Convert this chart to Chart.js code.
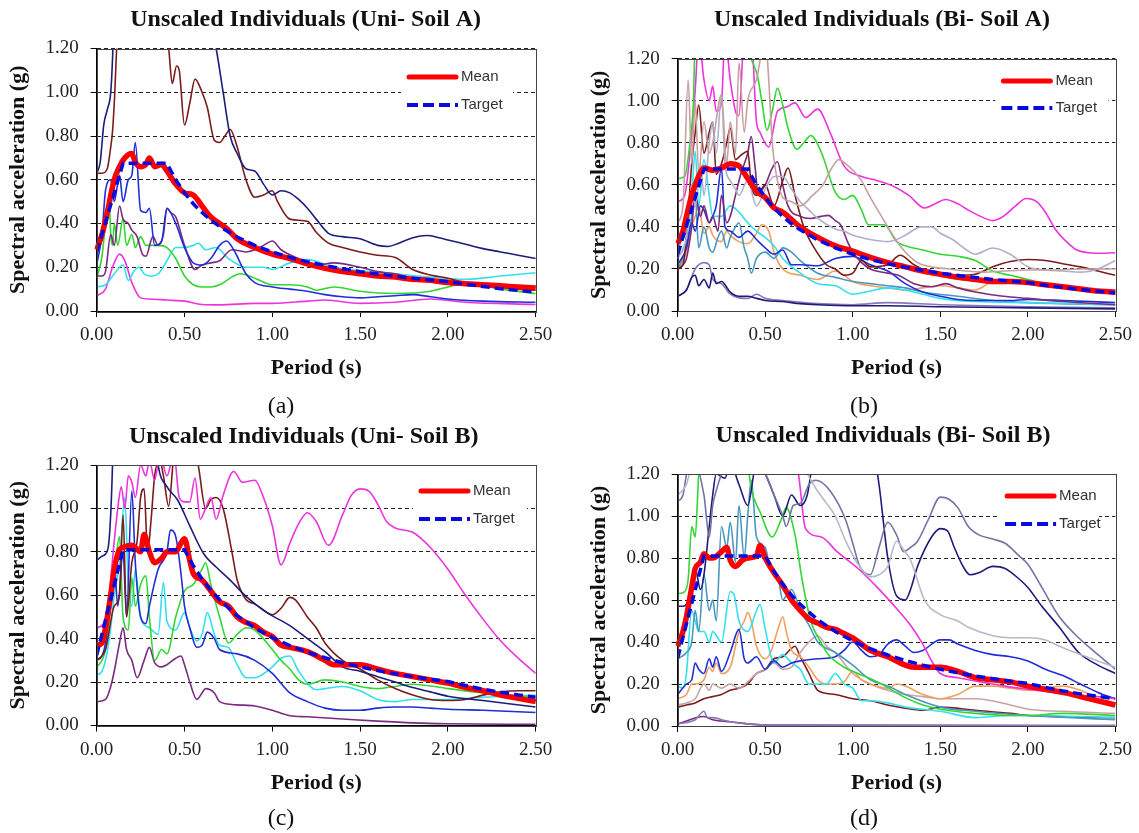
<!DOCTYPE html>
<html><head><meta charset="utf-8">
<script src="https://cdn.jsdelivr.net/npm/chart.js@4.4.0/dist/chart.umd.min.js"></script>
<style>
html,body{margin:0;padding:0;background:#fff;}
body{width:1139px;height:833px;position:relative;overflow:hidden;}
.panel{position:absolute;}
.panel canvas{display:block;}
.cap{position:absolute;font-family:'Liberation Serif',serif;font-size:24px;color:#111;transform:translate(-50%,-50%);line-height:1;white-space:nowrap;}
</style></head><body>
<div class="panel" style="left:0px;top:0px"><canvas id="cA" width="570" height="395"></canvas></div>
<div class="panel" style="left:581px;top:0px"><canvas id="cB" width="558" height="395"></canvas></div>
<div class="panel" style="left:0px;top:416px"><canvas id="cC" width="570" height="417"></canvas></div>
<div class="panel" style="left:581px;top:416px"><canvas id="cD" width="558" height="417"></canvas></div>
<div class="cap" style="left:281px;top:405px">(a)</div>
<div class="cap" style="left:864px;top:405px">(b)</div>
<div class="cap" style="left:281px;top:817px">(c)</div>
<div class="cap" style="left:864px;top:817px">(d)</div>
<script>
// ---------- labels ----------
const TITLES = ['Unscaled Individuals (Uni- Soil A)','Unscaled Individuals (Bi- Soil A)','Unscaled Individuals (Uni- Soil B)','Unscaled Individuals (Bi- Soil B)'];
const X_TITLE = 'Period (s)';
const Y_TITLE = 'Spectral acceleration (g)';
const X_TICKS = [0, 0.5, 1.0, 1.5, 2.0, 2.5];
const Y_TICKS = [0, 0.2, 0.4, 0.6, 0.8, 1.0, 1.2];

// ---------- target spectra [period, Sa] ----------
const TARGET_A = [[0,0.27],[0.15,0.675],[0.4,0.675],[0.45,0.60],[0.5,0.54],[0.55,0.49],[0.6,0.45],[0.65,0.415],[0.7,0.386],[0.8,0.338],[0.9,0.30],[1.0,0.27],[1.1,0.245],[1.2,0.225],[1.3,0.208],[1.4,0.193],[1.5,0.18],[1.6,0.169],[1.7,0.159],[1.8,0.15],[1.9,0.142],[2.0,0.135],[2.1,0.122],[2.2,0.112],[2.3,0.102],[2.4,0.094],[2.5,0.086]];
const TARGET_B = [[0,0.324],[0.15,0.81],[0.5,0.81],[0.55,0.736],[0.6,0.675],[0.65,0.623],[0.7,0.579],[0.8,0.506],[0.9,0.45],[1.0,0.405],[1.1,0.368],[1.2,0.338],[1.3,0.312],[1.4,0.289],[1.5,0.27],[1.6,0.253],[1.7,0.238],[1.8,0.225],[1.9,0.213],[2.0,0.2025],[2.1,0.184],[2.2,0.167],[2.3,0.153],[2.4,0.141],[2.5,0.13]];

// ---------- (a) Uni- Soil A ----------
const A_MEAN = [[0,0.28],[0.03,0.35],[0.06,0.45],[0.1,0.6],[0.13,0.66],[0.16,0.70],[0.2,0.72],[0.22,0.68],[0.25,0.66],[0.28,0.67],[0.3,0.70],[0.33,0.66],[0.37,0.67],[0.4,0.64],[0.45,0.58],[0.5,0.54],[0.55,0.53],[0.6,0.48],[0.65,0.43],[0.7,0.40],[0.75,0.37],[0.8,0.33],[0.9,0.29],[1.0,0.26],[1.1,0.24],[1.2,0.215],[1.3,0.195],[1.4,0.18],[1.5,0.17],[1.6,0.16],[1.7,0.155],[1.8,0.145],[1.9,0.14],[2.0,0.13],[2.1,0.125],[2.2,0.12],[2.3,0.115],[2.4,0.11],[2.5,0.105]];
const A_NAVY = [[0,0.63],[0.02,0.68],[0.04,0.85],[0.06,0.92],[0.08,1.0],[0.09,1.15],[0.1,1.4],[0.15,1.9],[0.3,2.0],[0.5,1.8],[0.62,1.4],[0.68,1.2],[0.72,1.0],[0.76,0.8],[0.8,0.72],[0.85,0.65],[0.9,0.64],[0.95,0.58],[1.0,0.53],[1.05,0.55],[1.1,0.54],[1.15,0.51],[1.2,0.47],[1.25,0.42],[1.32,0.355],[1.4,0.34],[1.5,0.33],[1.6,0.30],[1.66,0.295],[1.72,0.31],[1.8,0.335],[1.88,0.345],[1.95,0.335],[2.0,0.325],[2.1,0.305],[2.2,0.285],[2.3,0.27],[2.4,0.255],[2.5,0.24]];
const A_BROWN = [[0,0.63],[0.03,0.63],[0.06,0.65],[0.08,0.75],[0.09,0.82],[0.1,0.95],[0.12,1.3],[0.2,1.8],[0.35,1.5],[0.41,1.2],[0.43,1.04],[0.455,1.12],[0.47,1.1],[0.5,0.85],[0.53,0.95],[0.56,1.06],[0.6,1.0],[0.63,0.93],[0.67,0.78],[0.7,0.77],[0.73,0.8],[0.76,0.83],[0.8,0.75],[0.85,0.6],[0.9,0.52],[0.95,0.53],[1.0,0.55],[1.03,0.5],[1.1,0.42],[1.2,0.41],[1.25,0.36],[1.32,0.31],[1.4,0.29],[1.5,0.27],[1.6,0.255],[1.7,0.245],[1.8,0.19],[1.9,0.165],[2.0,0.15],[2.1,0.13],[2.2,0.12],[2.3,0.11],[2.4,0.10],[2.5,0.095]];
const A_BLUE = [[0,0.21],[0.03,0.35],[0.05,0.55],[0.08,0.6],[0.1,0.5],[0.13,0.62],[0.15,0.5],[0.18,0.6],[0.2,0.62],[0.22,0.77],[0.25,0.46],[0.28,0.45],[0.3,0.47],[0.33,0.30],[0.37,0.32],[0.4,0.47],[0.45,0.40],[0.5,0.29],[0.55,0.22],[0.6,0.21],[0.65,0.24],[0.7,0.30],[0.74,0.32],[0.78,0.28],[0.85,0.17],[0.9,0.13],[1.0,0.11],[1.1,0.10],[1.2,0.09],[1.3,0.075],[1.4,0.065],[1.5,0.06],[1.6,0.065],[1.7,0.07],[1.8,0.075],[1.9,0.065],[2.0,0.055],[2.2,0.045],[2.5,0.04]];
const A_PURPLE = [[0,0.16],[0.03,0.16],[0.05,0.18],[0.08,0.35],[0.1,0.30],[0.13,0.48],[0.15,0.42],[0.18,0.40],[0.2,0.37],[0.23,0.34],[0.26,0.26],[0.28,0.25],[0.32,0.34],[0.35,0.30],[0.38,0.35],[0.4,0.47],[0.42,0.45],[0.45,0.43],[0.5,0.30],[0.56,0.19],[0.6,0.21],[0.65,0.22],[0.7,0.23],[0.77,0.28],[0.85,0.27],[0.9,0.28],[0.95,0.30],[1.0,0.32],[1.05,0.28],[1.15,0.24],[1.25,0.21],[1.35,0.22],[1.5,0.20],[1.6,0.18],[1.7,0.17],[1.8,0.15],[1.9,0.14],[2.0,0.125],[2.2,0.12],[2.5,0.11]];
const A_GREEN = [[0,0.15],[0.03,0.25],[0.05,0.40],[0.07,0.52],[0.08,0.35],[0.09,0.30],[0.1,0.40],[0.12,0.30],[0.15,0.42],[0.17,0.30],[0.2,0.35],[0.22,0.29],[0.25,0.34],[0.28,0.30],[0.3,0.30],[0.35,0.30],[0.4,0.29],[0.45,0.24],[0.5,0.16],[0.55,0.12],[0.6,0.11],[0.65,0.11],[0.7,0.12],[0.78,0.16],[0.82,0.17],[0.9,0.15],[1.0,0.12],[1.1,0.12],[1.2,0.11],[1.25,0.095],[1.35,0.11],[1.5,0.09],[1.7,0.08],[1.9,0.09],[2.0,0.11],[2.1,0.125],[2.3,0.10],[2.5,0.08]];
const A_CYAN = [[0,0.11],[0.05,0.12],[0.1,0.17],[0.15,0.21],[0.18,0.14],[0.21,0.18],[0.24,0.20],[0.27,0.17],[0.3,0.16],[0.35,0.17],[0.4,0.23],[0.45,0.29],[0.5,0.29],[0.55,0.30],[0.58,0.31],[0.62,0.28],[0.68,0.29],[0.75,0.24],[0.85,0.20],[0.95,0.20],[1.0,0.19],[1.1,0.22],[1.2,0.235],[1.35,0.20],[1.5,0.185],[1.7,0.17],[1.9,0.155],[2.1,0.145],[2.3,0.16],[2.5,0.175]];
const A_MAGENTA = [[0,0.07],[0.05,0.10],[0.09,0.20],[0.13,0.26],[0.16,0.23],[0.2,0.13],[0.25,0.06],[0.3,0.055],[0.4,0.05],[0.5,0.045],[0.6,0.03],[0.7,0.028],[0.9,0.035],[1.0,0.035],[1.2,0.045],[1.3,0.05],[1.5,0.035],[1.7,0.04],[1.9,0.055],[2.1,0.04],[2.5,0.03]];

// ---------- (b) Bi- Soil A ----------
const B_MEAN = [[0,0.32],[0.03,0.38],[0.05,0.45],[0.08,0.55],[0.1,0.6],[0.13,0.66],[0.15,0.68],[0.2,0.67],[0.25,0.68],[0.3,0.70],[0.35,0.69],[0.4,0.63],[0.45,0.57],[0.5,0.54],[0.55,0.49],[0.6,0.47],[0.7,0.40],[0.8,0.35],[0.9,0.31],[1.0,0.285],[1.1,0.255],[1.2,0.23],[1.3,0.21],[1.4,0.19],[1.5,0.175],[1.6,0.16],[1.7,0.15],[1.8,0.14],[1.9,0.14],[2.0,0.135],[2.1,0.125],[2.2,0.115],[2.3,0.105],[2.4,0.095],[2.5,0.09]];
const B_GREEN = [[0,0.63],[0.04,0.64],[0.07,0.8],[0.09,1.0],[0.1,1.3],[0.2,1.5],[0.35,1.4],[0.42,1.2],[0.455,1.12],[0.48,1.0],[0.51,0.86],[0.54,0.95],[0.57,1.06],[0.6,0.98],[0.63,0.87],[0.68,0.77],[0.72,0.80],[0.76,0.835],[0.82,0.755],[0.9,0.565],[0.95,0.53],[1.0,0.55],[1.05,0.48],[1.09,0.41],[1.18,0.41],[1.25,0.33],[1.3,0.31],[1.4,0.29],[1.5,0.27],[1.6,0.26],[1.7,0.24],[1.8,0.19],[1.9,0.17],[2.0,0.15],[2.1,0.13],[2.2,0.115],[2.3,0.10],[2.5,0.085]];
const B_MAGENTA = [[0,0.52],[0.04,0.55],[0.07,0.75],[0.1,1.05],[0.12,1.3],[0.15,1.1],[0.18,1.0],[0.2,1.07],[0.22,0.95],[0.25,0.99],[0.27,1.3],[0.3,1.1],[0.33,0.95],[0.35,0.93],[0.38,1.3],[0.42,1.3],[0.45,0.9],[0.47,0.85],[0.52,0.78],[0.57,0.95],[0.62,0.97],[0.67,0.99],[0.73,0.92],[0.8,0.96],[0.87,0.85],[0.95,0.69],[1.05,0.64],[1.14,0.62],[1.24,0.59],[1.32,0.55],[1.41,0.49],[1.47,0.51],[1.53,0.53],[1.6,0.51],[1.66,0.48],[1.73,0.45],[1.8,0.43],[1.86,0.45],[1.93,0.5],[1.99,0.535],[2.05,0.52],[2.1,0.47],[2.16,0.385],[2.22,0.33],[2.28,0.29],[2.4,0.275],[2.5,0.277]];
const B_TAN = [[0,0.42],[0.03,0.5],[0.06,1.1],[0.08,0.7],[0.1,1.0],[0.12,0.65],[0.15,0.9],[0.18,0.75],[0.2,0.8],[0.25,1.03],[0.28,0.7],[0.3,0.9],[0.33,0.75],[0.35,1.18],[0.38,0.85],[0.4,1.0],[0.45,1.1],[0.5,1.3],[0.52,1.1],[0.54,0.8],[0.57,0.62],[0.6,0.54],[0.65,0.52],[0.7,0.50],[0.77,0.55],[0.83,0.6],[0.88,0.68],[0.92,0.72],[0.96,0.70],[1.0,0.67],[1.05,0.62],[1.1,0.54],[1.15,0.47],[1.2,0.40],[1.28,0.30],[1.37,0.23],[1.45,0.21],[1.55,0.2],[1.65,0.19],[1.75,0.185],[1.86,0.19],[2.0,0.195],[2.15,0.195],[2.3,0.2],[2.5,0.2]];
const B_LAVGRAY = [[0,0.25],[0.05,0.35],[0.08,0.6],[0.1,0.5],[0.13,0.7],[0.15,0.55],[0.18,0.8],[0.2,0.9],[0.22,0.75],[0.25,1.03],[0.27,0.7],[0.3,0.62],[0.33,0.58],[0.35,0.55],[0.4,0.62],[0.45,0.50],[0.5,0.58],[0.55,0.64],[0.6,0.64],[0.65,0.58],[0.7,0.52],[0.75,0.48],[0.8,0.44],[0.9,0.39],[0.95,0.38],[1.0,0.36],[1.1,0.34],[1.2,0.33],[1.25,0.34],[1.3,0.36],[1.39,0.40],[1.45,0.40],[1.5,0.37],[1.57,0.34],[1.65,0.29],[1.7,0.27],[1.8,0.30],[1.9,0.27],[2.0,0.21],[2.1,0.195],[2.2,0.19],[2.3,0.185],[2.4,0.2],[2.5,0.24]];
const B_BROWN = [[0,0.20],[0.03,0.22],[0.05,0.35],[0.08,0.7],[0.1,0.85],[0.12,0.98],[0.15,0.75],[0.18,0.85],[0.2,0.9],[0.22,0.65],[0.25,0.7],[0.28,0.8],[0.3,0.87],[0.33,0.72],[0.36,0.74],[0.4,0.76],[0.42,0.6],[0.45,0.55],[0.5,0.6],[0.55,0.5],[0.6,0.62],[0.63,0.68],[0.67,0.55],[0.72,0.40],[0.78,0.30],[0.85,0.22],[0.9,0.20],[0.95,0.17],[1.0,0.18],[1.05,0.24],[1.1,0.21],[1.2,0.22],[1.27,0.265],[1.35,0.22],[1.45,0.18],[1.6,0.17],[1.7,0.175],[1.8,0.21],[1.9,0.235],[2.0,0.245],[2.1,0.24],[2.2,0.225],[2.3,0.21],[2.4,0.19],[2.5,0.17]];
const B_PURPLE = [[0,0.2],[0.03,0.22],[0.05,0.25],[0.08,0.4],[0.1,0.55],[0.13,0.45],[0.15,0.5],[0.18,0.42],[0.2,0.45],[0.23,0.38],[0.25,0.55],[0.28,0.42],[0.3,0.45],[0.33,0.55],[0.36,0.65],[0.4,0.75],[0.42,0.83],[0.44,0.7],[0.46,0.56],[0.5,0.6],[0.54,0.68],[0.57,0.71],[0.6,0.6],[0.63,0.50],[0.7,0.45],[0.76,0.44],[0.82,0.45],[0.86,0.455],[0.9,0.43],[0.93,0.41],[0.97,0.33],[1.0,0.28],[1.05,0.23],[1.1,0.20],[1.2,0.18],[1.26,0.17],[1.35,0.13],[1.45,0.115],[1.53,0.13],[1.6,0.11],[1.7,0.09],[1.86,0.07],[2.0,0.06],[2.2,0.045],[2.5,0.03]];
const B_BLUE = [[0,0.22],[0.05,0.3],[0.08,0.42],[0.1,0.38],[0.13,0.5],[0.15,0.48],[0.18,0.42],[0.2,0.45],[0.22,0.5],[0.25,0.68],[0.27,0.4],[0.3,0.38],[0.35,0.35],[0.4,0.38],[0.45,0.34],[0.5,0.30],[0.55,0.27],[0.6,0.29],[0.65,0.22],[0.7,0.22],[0.8,0.215],[0.9,0.25],[1.0,0.26],[1.1,0.22],[1.2,0.19],[1.3,0.13],[1.4,0.09],[1.5,0.07],[1.6,0.055],[1.7,0.05],[1.9,0.05],[2.0,0.055],[2.2,0.05],[2.5,0.04]];
const B_CYAN = [[0,0.25],[0.05,0.35],[0.08,0.55],[0.1,0.76],[0.12,0.5],[0.15,0.72],[0.18,0.55],[0.2,0.45],[0.25,0.45],[0.3,0.5],[0.35,0.47],[0.4,0.42],[0.45,0.38],[0.5,0.35],[0.55,0.31],[0.6,0.25],[0.7,0.18],[0.8,0.13],[0.9,0.12],[1.0,0.08],[1.1,0.095],[1.2,0.11],[1.3,0.10],[1.4,0.08],[1.5,0.06],[1.7,0.045],[2.0,0.04],[2.5,0.03]];
const B_TEAL = [[0,0.2],[0.05,0.3],[0.08,0.45],[0.1,0.55],[0.12,0.3],[0.15,0.4],[0.18,0.3],[0.2,0.28],[0.23,0.35],[0.25,0.38],[0.28,0.3],[0.3,0.35],[0.33,0.40],[0.35,0.42],[0.38,0.3],[0.4,0.25],[0.42,0.18],[0.45,0.25],[0.5,0.28],[0.55,0.25],[0.6,0.3],[0.65,0.28],[0.7,0.24],[0.8,0.18],[0.9,0.16],[1.0,0.14],[1.1,0.13],[1.2,0.12],[1.3,0.11],[1.4,0.09],[1.6,0.07],[1.8,0.05],[2.0,0.04],[2.5,0.03]];
const B_ORANGE = [[0,0.19],[0.05,0.28],[0.08,0.4],[0.1,0.45],[0.12,0.5],[0.15,0.37],[0.18,0.4],[0.2,0.36],[0.25,0.33],[0.28,0.38],[0.3,0.36],[0.35,0.33],[0.4,0.32],[0.45,0.37],[0.48,0.41],[0.52,0.38],[0.55,0.28],[0.6,0.2],[0.7,0.17],[0.8,0.15],[0.9,0.19],[0.95,0.17],[1.0,0.14],[1.1,0.12],[1.2,0.11],[1.3,0.10],[1.4,0.11],[1.5,0.12],[1.6,0.11],[1.7,0.10],[1.8,0.14],[1.9,0.145],[2.0,0.14],[2.2,0.12],[2.4,0.09],[2.5,0.08]];
const B_NAVY = [[0,0.07],[0.05,0.1],[0.08,0.16],[0.1,0.17],[0.12,0.12],[0.15,0.15],[0.18,0.11],[0.2,0.18],[0.22,0.13],[0.25,0.14],[0.3,0.09],[0.35,0.07],[0.4,0.07],[0.45,0.06],[0.5,0.05],[0.6,0.045],[0.7,0.035],[0.8,0.03],[1.0,0.025],[1.2,0.025],[1.5,0.02],[2.0,0.015],[2.5,0.01]];
const B_LAVENDER = [[0,0.07],[0.05,0.1],[0.1,0.2],[0.15,0.23],[0.18,0.22],[0.2,0.15],[0.25,0.13],[0.3,0.08],[0.4,0.06],[0.45,0.08],[0.5,0.06],[0.6,0.05],[0.8,0.035],[1.0,0.03],[1.2,0.04],[1.5,0.03],[2.0,0.02],[2.5,0.015]];

// ---------- (c) Uni- Soil B ----------
const C_MEAN = [[0,0.37],[0.03,0.38],[0.05,0.45],[0.08,0.6],[0.1,0.72],[0.13,0.81],[0.15,0.82],[0.2,0.83],[0.22,0.82],[0.25,0.80],[0.27,0.88],[0.3,0.80],[0.33,0.75],[0.37,0.77],[0.4,0.80],[0.45,0.80],[0.48,0.84],[0.5,0.86],[0.53,0.76],[0.55,0.70],[0.6,0.67],[0.65,0.62],[0.7,0.57],[0.75,0.55],[0.8,0.50],[0.85,0.475],[0.9,0.46],[0.95,0.43],[1.0,0.41],[1.05,0.37],[1.1,0.36],[1.2,0.34],[1.3,0.30],[1.35,0.28],[1.4,0.28],[1.5,0.28],[1.6,0.26],[1.7,0.24],[1.8,0.225],[1.9,0.21],[2.0,0.195],[2.1,0.175],[2.2,0.16],[2.3,0.14],[2.4,0.125],[2.5,0.11]];
const C_MAGENTA = [[0,0.45],[0.04,0.47],[0.07,0.6],[0.1,0.85],[0.12,1.0],[0.14,1.1],[0.16,1.0],[0.18,1.15],[0.2,1.12],[0.22,1.05],[0.25,1.2],[0.28,1.15],[0.3,1.22],[0.33,1.13],[0.36,1.25],[0.4,1.15],[0.44,1.25],[0.47,1.05],[0.5,1.03],[0.53,1.03],[0.56,1.14],[0.59,0.95],[0.62,1.0],[0.65,1.05],[0.68,0.95],[0.72,1.06],[0.78,1.17],[0.83,1.12],[0.9,1.13],[0.95,1.05],[1.0,0.92],[1.05,0.74],[1.1,0.84],[1.15,0.93],[1.2,0.98],[1.25,0.94],[1.32,0.83],[1.4,0.97],[1.45,1.06],[1.5,1.09],[1.55,1.08],[1.6,1.02],[1.65,0.94],[1.7,0.91],[1.8,0.89],[1.9,0.82],[2.0,0.72],[2.1,0.6],[2.2,0.49],[2.3,0.39],[2.4,0.31],[2.5,0.24]];
const C_NAVY = [[0,0.76],[0.03,0.78],[0.05,0.79],[0.07,0.85],[0.09,1.2],[0.1,1.6],[0.3,1.6],[0.35,1.2],[0.4,1.1],[0.46,1.04],[0.53,0.92],[0.61,0.79],[0.68,0.73],[0.76,0.67],[0.85,0.595],[0.97,0.52],[1.1,0.46],[1.2,0.40],[1.3,0.34],[1.4,0.27],[1.5,0.25],[1.6,0.225],[1.7,0.2],[1.8,0.175],[1.9,0.155],[2.0,0.135],[2.2,0.115],[2.5,0.085]];
const C_BROWN = [[0,0.3],[0.05,0.35],[0.1,0.55],[0.13,0.6],[0.15,0.97],[0.17,0.5],[0.2,0.75],[0.23,0.85],[0.25,1.05],[0.27,1.09],[0.29,0.8],[0.31,0.95],[0.33,1.15],[0.36,1.22],[0.38,1.15],[0.41,1.01],[0.44,1.25],[0.5,1.35],[0.55,1.3],[0.58,1.19],[0.62,1.0],[0.65,1.04],[0.68,1.05],[0.72,1.0],[0.77,0.8],[0.8,0.67],[0.85,0.58],[0.9,0.56],[0.97,0.52],[1.0,0.51],[1.05,0.54],[1.1,0.59],[1.13,0.58],[1.2,0.50],[1.25,0.45],[1.3,0.38],[1.4,0.30],[1.5,0.26],[1.6,0.21],[1.7,0.17],[1.8,0.14],[1.9,0.12],[2.0,0.115],[2.1,0.12],[2.2,0.14],[2.3,0.155],[2.4,0.16],[2.5,0.16]];
const C_BLUE = [[0,0.30],[0.03,0.32],[0.05,0.38],[0.08,0.6],[0.1,0.75],[0.12,0.55],[0.15,0.8],[0.17,0.5],[0.2,1.08],[0.22,0.75],[0.25,0.5],[0.28,0.47],[0.3,0.55],[0.35,0.72],[0.4,0.80],[0.42,0.90],[0.45,0.87],[0.48,0.7],[0.5,0.55],[0.53,0.45],[0.57,0.36],[0.6,0.37],[0.63,0.43],[0.67,0.40],[0.7,0.35],[0.8,0.33],[0.9,0.30],[1.0,0.24],[1.1,0.15],[1.2,0.11],[1.3,0.08],[1.4,0.07],[1.5,0.07],[1.6,0.08],[1.7,0.085],[1.8,0.085],[1.9,0.08],[2.0,0.075],[2.2,0.07],[2.5,0.06]];
const C_GREEN = [[0,0.27],[0.03,0.3],[0.05,0.35],[0.08,0.55],[0.1,0.7],[0.13,0.87],[0.15,0.5],[0.18,0.44],[0.2,0.68],[0.22,0.55],[0.25,0.65],[0.28,0.69],[0.3,0.5],[0.33,0.3],[0.37,0.35],[0.4,0.33],[0.45,0.5],[0.5,0.62],[0.55,0.65],[0.6,0.72],[0.62,0.75],[0.65,0.65],[0.7,0.5],[0.75,0.38],[0.8,0.42],[0.85,0.45],[0.9,0.44],[1.0,0.35],[1.05,0.3],[1.1,0.26],[1.15,0.21],[1.2,0.19],[1.3,0.21],[1.4,0.20],[1.5,0.18],[1.6,0.17],[1.7,0.18],[1.8,0.19],[2.0,0.17],[2.2,0.15],[2.5,0.13]];
const C_CYAN = [[0,0.23],[0.03,0.25],[0.05,0.3],[0.08,0.45],[0.1,0.6],[0.13,0.75],[0.16,1.05],[0.18,0.65],[0.2,0.55],[0.22,0.72],[0.25,0.5],[0.3,0.45],[0.35,0.42],[0.38,0.66],[0.4,0.48],[0.45,0.44],[0.5,0.52],[0.53,0.45],[0.57,0.39],[0.6,0.42],[0.63,0.52],[0.67,0.42],[0.7,0.37],[0.75,0.36],[0.8,0.28],[0.85,0.22],[0.9,0.22],[1.0,0.27],[1.05,0.31],[1.1,0.32],[1.15,0.25],[1.25,0.165],[1.3,0.17],[1.4,0.18],[1.5,0.16],[1.6,0.12],[1.7,0.11],[1.8,0.12],[2.0,0.12],[2.2,0.13],[2.5,0.14]];
const C_PURPLE = [[0,0.11],[0.05,0.12],[0.08,0.18],[0.1,0.25],[0.13,0.38],[0.15,0.45],[0.17,0.35],[0.2,0.3],[0.23,0.22],[0.27,0.3],[0.3,0.36],[0.33,0.29],[0.37,0.27],[0.4,0.28],[0.45,0.31],[0.48,0.32],[0.5,0.28],[0.53,0.2],[0.57,0.12],[0.6,0.15],[0.62,0.17],[0.67,0.15],[0.7,0.11],[0.8,0.095],[0.9,0.09],[1.0,0.07],[1.1,0.045],[1.2,0.04],[1.4,0.03],[1.6,0.02],[1.8,0.012],[2.0,0.008],[2.5,0.005]];

// ---------- (d) Bi- Soil B ----------
const D_MEAN = [[0,0.38],[0.03,0.45],[0.05,0.52],[0.08,0.66],[0.1,0.75],[0.13,0.78],[0.15,0.82],[0.18,0.80],[0.2,0.80],[0.25,0.83],[0.28,0.85],[0.3,0.79],[0.33,0.76],[0.37,0.79],[0.4,0.80],[0.45,0.81],[0.47,0.86],[0.5,0.80],[0.55,0.73],[0.6,0.67],[0.65,0.60],[0.7,0.55],[0.75,0.51],[0.8,0.49],[0.85,0.47],[0.9,0.46],[0.95,0.44],[1.0,0.42],[1.1,0.36],[1.2,0.33],[1.3,0.29],[1.35,0.28],[1.4,0.28],[1.5,0.28],[1.6,0.26],[1.7,0.23],[1.8,0.22],[1.9,0.21],[2.0,0.19],[2.1,0.175],[2.2,0.16],[2.3,0.14],[2.4,0.12],[2.5,0.10]];
const D_NAVY = [[0,0.57],[0.03,0.57],[0.05,0.58],[0.08,0.68],[0.1,0.75],[0.13,0.65],[0.15,0.72],[0.18,0.95],[0.2,1.1],[0.22,1.2],[0.27,1.18],[0.3,1.25],[0.35,1.15],[0.4,1.05],[0.45,1.25],[0.5,1.2],[0.55,1.1],[0.6,1.0],[0.65,1.1],[0.7,1.05],[0.74,1.1],[0.78,1.3],[1.0,1.6],[1.13,1.25],[1.15,1.15],[1.2,0.8],[1.25,0.62],[1.3,0.6],[1.33,0.65],[1.37,0.76],[1.45,0.9],[1.5,0.94],[1.54,0.93],[1.58,0.85],[1.63,0.76],[1.67,0.72],[1.72,0.73],[1.8,0.76],[1.87,0.75],[1.95,0.70],[2.0,0.66],[2.08,0.57],[2.18,0.47],[2.29,0.35],[2.4,0.29],[2.5,0.25]];
const D_SLATE = [[0,1.07],[0.03,1.1],[0.05,1.2],[0.07,1.3],[0.15,1.1],[0.18,0.9],[0.2,1.05],[0.22,1.12],[0.25,1.2],[0.3,1.3],[0.4,1.25],[0.5,1.2],[0.55,1.1],[0.6,1.0],[0.62,0.95],[0.66,1.05],[0.7,1.06],[0.75,1.15],[0.79,1.17],[0.87,1.12],[0.96,0.98],[1.0,0.87],[1.04,0.76],[1.1,0.72],[1.15,0.85],[1.2,0.97],[1.25,0.91],[1.29,0.83],[1.33,0.85],[1.37,0.88],[1.43,0.98],[1.5,1.09],[1.55,1.08],[1.6,1.04],[1.66,0.95],[1.72,0.91],[1.8,0.89],[1.87,0.87],[1.95,0.81],[2.0,0.77],[2.08,0.66],[2.18,0.52],[2.29,0.42],[2.4,0.34],[2.5,0.27]];
const D_LIGHTGRAY = [[0,1.1],[0.05,1.15],[0.1,1.3],[0.5,1.35],[0.7,1.25],[0.79,1.13],[0.85,1.06],[0.9,1.0],[0.96,0.88],[1.03,0.77],[1.1,0.71],[1.15,0.72],[1.2,0.76],[1.25,0.88],[1.29,0.84],[1.33,0.79],[1.41,0.6],[1.5,0.53],[1.6,0.5],[1.66,0.47],[1.8,0.43],[1.9,0.42],[2.0,0.42],[2.1,0.41],[2.18,0.38],[2.3,0.34],[2.4,0.31],[2.5,0.28]];
const D_MAGENTA = [[0,1.2],[0.02,1.4],[0.3,1.6],[0.65,1.35],[0.69,1.2],[0.73,0.94],[0.82,0.9],[0.91,0.83],[1.03,0.75],[1.14,0.66],[1.26,0.55],[1.33,0.48],[1.4,0.39],[1.45,0.31],[1.5,0.25],[1.6,0.23],[1.66,0.22],[1.8,0.2],[1.87,0.19],[2.0,0.175],[2.1,0.165],[2.2,0.155],[2.3,0.145],[2.4,0.14],[2.5,0.13]];
const D_GREEN = [[0,0.63],[0.04,0.64],[0.06,0.7],[0.08,0.95],[0.1,0.9],[0.12,1.2],[0.15,1.5],[0.3,1.5],[0.4,1.25],[0.42,1.13],[0.47,1.02],[0.54,0.9],[0.59,0.98],[0.62,1.04],[0.67,0.91],[0.71,0.7],[0.76,0.5],[0.81,0.41],[0.86,0.34],[0.95,0.28],[1.03,0.25],[1.14,0.21],[1.3,0.135],[1.4,0.10],[1.5,0.08],[1.7,0.06],[1.9,0.05],[2.0,0.05],[2.2,0.06],[2.5,0.05]];
const D_BLUE = [[0,0.15],[0.05,0.2],[0.08,0.22],[0.1,0.3],[0.12,0.27],[0.15,0.25],[0.18,0.32],[0.2,0.28],[0.22,0.33],[0.25,0.26],[0.3,0.35],[0.35,0.46],[0.38,0.32],[0.4,0.30],[0.45,0.33],[0.5,0.27],[0.55,0.31],[0.6,0.28],[0.65,0.30],[0.7,0.31],[0.8,0.32],[0.9,0.33],[0.95,0.36],[1.0,0.40],[1.05,0.36],[1.1,0.33],[1.15,0.34],[1.2,0.39],[1.25,0.41],[1.3,0.38],[1.35,0.35],[1.4,0.36],[1.5,0.41],[1.55,0.41],[1.6,0.39],[1.7,0.36],[1.8,0.34],[1.9,0.33],[2.0,0.31],[2.1,0.27],[2.2,0.24],[2.3,0.2],[2.4,0.16],[2.5,0.13]];
const D_TEAL = [[0,0.32],[0.05,0.35],[0.08,0.4],[0.1,0.55],[0.12,0.45],[0.15,0.72],[0.18,0.55],[0.2,0.6],[0.22,0.5],[0.25,0.95],[0.28,0.85],[0.3,0.97],[0.33,0.78],[0.35,1.05],[0.38,0.8],[0.4,1.0],[0.42,1.17],[0.45,0.9],[0.5,0.85],[0.53,0.75],[0.57,0.72],[0.6,0.6],[0.62,0.62],[0.65,0.65],[0.7,0.55],[0.75,0.48],[0.8,0.40],[0.9,0.35],[1.0,0.29],[1.1,0.22],[1.2,0.19],[1.3,0.15],[1.5,0.09],[1.7,0.07],[2.0,0.05],[2.5,0.03]];
const D_CYAN = [[0,0.19],[0.03,0.18],[0.05,0.25],[0.08,0.55],[0.1,0.5],[0.12,0.45],[0.15,0.45],[0.18,0.4],[0.2,0.45],[0.25,0.4],[0.3,0.64],[0.32,0.63],[0.35,0.5],[0.4,0.45],[0.45,0.55],[0.47,0.58],[0.5,0.46],[0.55,0.3],[0.6,0.34],[0.65,0.3],[0.7,0.27],[0.75,0.2],[0.8,0.2],[0.85,0.2],[0.9,0.25],[0.95,0.2],[1.0,0.18],[1.05,0.12],[1.1,0.12],[1.2,0.11],[1.3,0.09],[1.5,0.07],[1.7,0.04],[1.9,0.05],[2.0,0.05],[2.5,0.04]];
const D_ORANGE = [[0,0.13],[0.05,0.15],[0.08,0.2],[0.1,0.2],[0.15,0.22],[0.18,0.28],[0.2,0.26],[0.22,0.3],[0.25,0.25],[0.3,0.28],[0.35,0.45],[0.38,0.5],[0.4,0.54],[0.42,0.5],[0.45,0.38],[0.5,0.32],[0.53,0.35],[0.58,0.48],[0.6,0.52],[0.62,0.45],[0.65,0.36],[0.7,0.33],[0.75,0.28],[0.8,0.22],[0.85,0.2],[0.9,0.2],[0.95,0.21],[1.0,0.26],[1.05,0.22],[1.1,0.2],[1.2,0.18],[1.25,0.2],[1.3,0.19],[1.4,0.15],[1.5,0.13],[1.6,0.15],[1.7,0.19],[1.8,0.19],[1.9,0.18],[2.0,0.17],[2.2,0.19],[2.3,0.17],[2.4,0.13],[2.5,0.1]];
const D_ROSY = [[0,0.1],[0.05,0.11],[0.1,0.13],[0.15,0.2],[0.18,0.17],[0.2,0.2],[0.25,0.18],[0.3,0.2],[0.35,0.18],[0.4,0.21],[0.45,0.25],[0.5,0.27],[0.55,0.3],[0.6,0.27],[0.65,0.28],[0.7,0.35],[0.75,0.4],[0.8,0.43],[0.85,0.38],[0.9,0.35],[1.0,0.25],[1.1,0.2],[1.2,0.17],[1.3,0.15],[1.4,0.14],[1.5,0.13],[1.7,0.13],[1.9,0.1],[2.0,0.08],[2.2,0.07],[2.5,0.06]];
const D_BROWN = [[0,0.09],[0.05,0.1],[0.1,0.11],[0.15,0.13],[0.2,0.14],[0.25,0.15],[0.3,0.17],[0.35,0.18],[0.4,0.2],[0.45,0.25],[0.5,0.27],[0.55,0.32],[0.6,0.33],[0.65,0.37],[0.67,0.38],[0.7,0.33],[0.75,0.25],[0.8,0.17],[0.9,0.15],[1.0,0.13],[1.1,0.12],[1.2,0.1],[1.3,0.085],[1.4,0.075],[1.5,0.09],[1.7,0.075],[1.9,0.06],[2.0,0.05],[2.5,0.04]];
const D_LAVENDER = [[0,0.01],[0.1,0.03],[0.15,0.07],[0.17,0.04],[0.2,0.04],[0.25,0.03],[0.3,0.02],[0.4,0.01],[0.5,0.005],[1.0,0.003],[2.5,0.002]];
const D_PURPLE = [[0,0.01],[0.15,0.045],[0.2,0.03],[0.3,0.02],[0.5,0.005],[2.5,0.002]];

// ---------- colours ----------
const COL = {navy:'#1c1c7a', brown:'#7a1c1c', blue:'#1f2fd8', purple:'#7a2a80', green:'#33d633', cyan:'#33e0ee', magenta:'#ee33dd', tan:'#c8a0a0', lavgray:'#b0b0cc', teal:'#4a98c0', orange:'#f0a060', lavender:'#8878b8', slate:'#7474a4', lightgray:'#b8b8cc', rosy:'#c8a4a4'};

const deco = {
  id:'deco',
  afterLayout(chart, args, o){
    const tb = chart.titleBlock;
    if (tb) { const w = tb.right - tb.left; tb.left = o.titleX - w/2; tb.right = o.titleX + w/2; }
  },
  beforeDatasetsDraw(chart, args, o){
    const {ctx, chartArea:ca} = chart;
    const x0 = ca.right - o.lx;
    ctx.save();
    ctx.fillStyle = '#fff';
    ctx.fillRect(x0 - 6, ca.top + o.my - 13, o.bw, o.ty - o.my + 26);
    ctx.restore();
  },
  afterDatasetsDraw(chart, args, o){
    const {ctx, chartArea:ca} = chart;
    ctx.save();
    ctx.strokeStyle = '#444'; ctx.lineWidth = 1; ctx.setLineDash([]);
    ctx.strokeRect(Math.round(ca.left)+0.5, Math.round(ca.top)+0.5, Math.round(ca.right-ca.left), Math.round(ca.bottom-ca.top));
    const x0 = ca.right - o.lx;
    const my = ca.top + o.my, ty = ca.top + o.ty;
    ctx.lineCap = 'round';
    ctx.strokeStyle = '#ff0000'; ctx.lineWidth = 5;
    ctx.beginPath(); ctx.moveTo(x0+2, my); ctx.lineTo(x0+49, my); ctx.stroke();
    ctx.lineCap = 'butt';
    ctx.strokeStyle = '#0a0adf'; ctx.lineWidth = 4; ctx.setLineDash([11,5]);
    ctx.beginPath(); ctx.moveTo(x0, ty); ctx.lineTo(x0+51, ty); ctx.stroke();
    ctx.setLineDash([]);
    ctx.fillStyle = '#333'; ctx.font = '15px "Liberation Sans", Arial, sans-serif';
    ctx.textBaseline = 'middle'; ctx.textAlign = 'left';
    ctx.fillText('Mean', x0 + 54, my);
    ctx.fillText('Target', x0 + 54, ty);
    ctx.restore();
  }
};

function makeChart(id, P){
  const ds = [
    {label:'Target', data:P.target, borderColor:'#0a0adf', borderWidth:3.5, borderDash:[9,5], tension:0, pointRadius:0, clip:0},
    {label:'Mean', data:P.mean, borderColor:'#ff0000', borderWidth:5.5, cubicInterpolationMode:'monotone', pointRadius:0, clip:2}
  ];
  P.lines.forEach(([d,c],i) => ds.push({label:'Record '+(i+1), data:d, borderColor:COL[c], borderWidth:1.6, cubicInterpolationMode:'monotone', pointRadius:0, clip:0}));
  const serif = 'Liberation Serif';
  new Chart(document.getElementById(id), {
    type:'line',
    data:{datasets:ds},
    options:{
      responsive:false, animation:false, events:[],
      layout:{padding:{left:0, right:P.padR, top:0, bottom:P.padB}},
      plugins:{
        legend:{display:false}, tooltip:{enabled:false},
        title:{display:true, text:P.title, color:'#111', font:{family:serif, size:24, weight:'bold', lineHeight:1.2}, padding:{top:P.tTop, bottom:P.tBot}},
        deco:{titleX:P.titleX, lx:P.lx, my:P.my, ty:P.ty, bw:P.bw}
      },
      scales:{
        x:{type:'linear', min:0, max:2.5,
          afterBuildTicks:s => { s.ticks = X_TICKS.map(v => ({value:v})); },
          afterFit:s => { s.height = P.xH; },
          ticks:{autoSkip:false, maxRotation:0, padding:7, color:'#222', font:{family:serif, size:19}, callback:v => Number(v).toFixed(2)},
          grid:{drawOnChartArea:false, drawTicks:true, tickLength:6, tickColor:'#000', color:'#000'},
          border:{color:'#000', width:1},
          title:{display:true, text:X_TITLE, color:'#111', font:{family:serif, size:22, weight:'bold'}, padding:{top:4, bottom:4}}
        },
        y:{type:'linear', min:0, max:1.2,
          afterBuildTicks:s => { s.ticks = Y_TICKS.map(v => ({value:v})); },
          afterFit:s => { s.width = 96.7; },
          ticks:{padding:12, color:'#222', font:{family:serif, size:19}, callback:v => Number(v).toFixed(2)},
          grid:{color:'#222', lineWidth:1, tickLength:6, tickColor:'#000'},
          border:{color:'#000', width:1, dash:[4,3]},
          title:{display:true, text:Y_TITLE, color:'#111', font:{family:serif, size:22, weight:'bold'}, padding:{top:5, bottom:4}}
        }
      }
    },
    plugins:[deco]
  });
}

makeChart('cA', {title:TITLES[0], target:TARGET_A, mean:A_MEAN,
  lines:[[A_NAVY,'navy'],[A_BROWN,'brown'],[A_BLUE,'blue'],[A_PURPLE,'purple'],[A_GREEN,'green'],[A_CYAN,'cyan'],[A_MAGENTA,'magenta']],
  padR:34.3, padB:9.8, tTop:5.6, tBot:14.1, xH:74.2, titleX:305.6, lx:128.7, my:28.5, ty:56.5, bw:112});
makeChart('cB', {title:TITLES[1], target:TARGET_A, mean:B_MEAN,
  lines:[[B_TAN,'tan'],[B_LAVGRAY,'lavgray'],[B_GREEN,'green'],[B_MAGENTA,'magenta'],[B_BROWN,'brown'],[B_PURPLE,'purple'],[B_BLUE,'blue'],[B_CYAN,'cyan'],[B_TEAL,'teal'],[B_ORANGE,'orange'],[B_NAVY,'navy'],[B_LAVENDER,'lavender']],
  padR:22, padB:9.8, tTop:5.6, tBot:24.3, xH:74.2, titleX:301, lx:114, my:22.3, ty:49.3, bw:113});
makeChart('cC', {title:TITLES[2], target:TARGET_B, mean:C_MEAN,
  lines:[[C_MAGENTA,'magenta'],[C_NAVY,'navy'],[C_BROWN,'brown'],[C_BLUE,'blue'],[C_GREEN,'green'],[C_CYAN,'cyan'],[C_PURPLE,'purple']],
  padR:34.3, padB:32.8, tTop:6.3, tBot:13.9, xH:74.7, titleX:303.7, lx:116.7, my:26, ty:54, bw:114});
makeChart('cD', {title:TITLES[3], target:TARGET_B, mean:D_MEAN,
  lines:[[D_LIGHTGRAY,'lightgray'],[D_SLATE,'slate'],[D_NAVY,'navy'],[D_MAGENTA,'magenta'],[D_GREEN,'green'],[D_TEAL,'teal'],[D_BLUE,'blue'],[D_CYAN,'cyan'],[D_ORANGE,'orange'],[D_ROSY,'rosy'],[D_BROWN,'brown'],[D_LAVENDER,'lavender'],[D_PURPLE,'purple']],
  padR:22, padB:32.8, tTop:5.6, tBot:23.6, xH:74.2, titleX:302, lx:110.3, my:22, ty:50, bw:100});
</script>
</body></html>
